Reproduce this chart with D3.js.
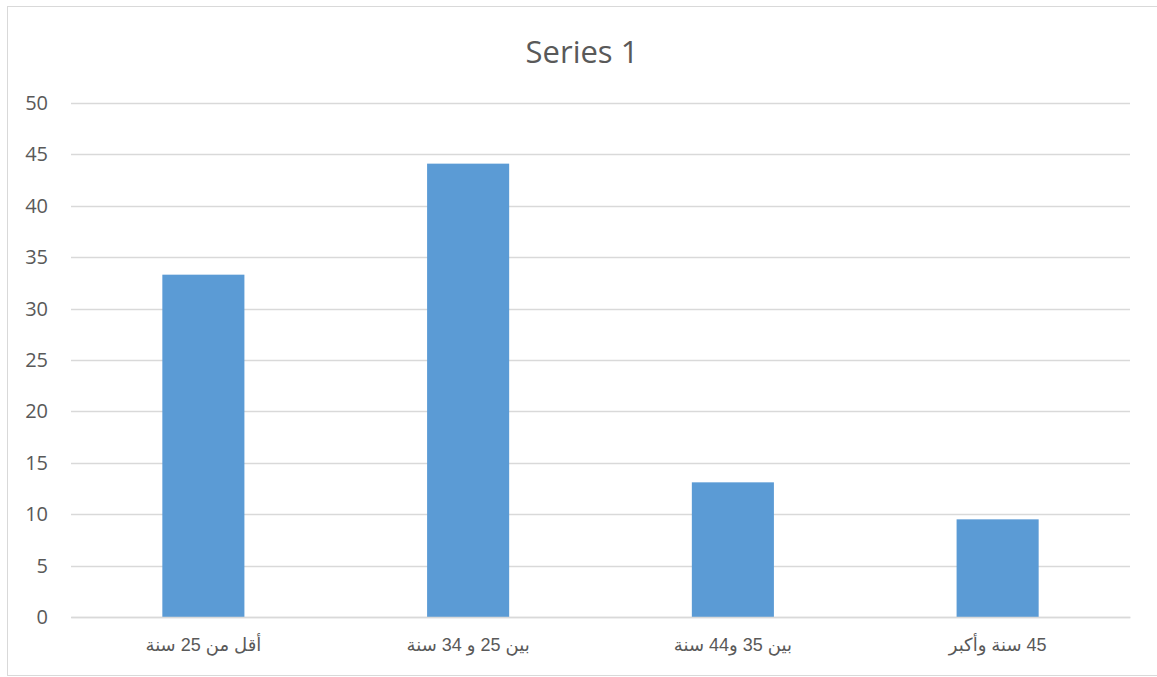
<!DOCTYPE html>
<html>
<head>
<meta charset="utf-8">
<script src="https://cdn.jsdelivr.net/npm/d3@7"></script>
<style>
  body { margin: 0; background: #fff; }
  svg { display: block; }
</style>
</head>
<body>
<svg width="1157" height="677"></svg>
<script>
// dữ liệu
const categories = ["أقل من 25 سنة", "بين 25 و 34 سنة", "بين 35 و44 سنة", "45 سنة وأكبر"];
const values = [33.3, 44.1, 13.1, 9.5];
const yTicks = [0, 5, 10, 15, 20, 25, 30, 35, 40, 45, 50];
const title = "Series 1";

const svg = d3.select("svg");
const margin = { top: 103, right: 27, left: 71 };
const plotW = 1130 - margin.left;
const plotH = 617 - margin.top;

// khung viền
svg.append("rect")
  .attr("x", 7.5).attr("y", 6.5)
  .attr("width", 1160).attr("height", 669)
  .attr("fill", "none")
  .attr("stroke", "#d9d9d9");

const chart = svg.append("g").attr("transform", `translate(${margin.left},${margin.top})`);

const x = d3.scaleBand()
  .domain(categories)
  .range([0, plotW])
  .paddingInner(0.69)
  .paddingOuter(0.345);

const y = d3.scaleLinear()
  .domain([0, 50])
  .range([plotH, 0]);

// lưới ngang
chart.append("g")
  .selectAll("line")
  .data(yTicks)
  .enter()
  .append("line")
  .attr("x1", 0)
  .attr("x2", plotW)
  .attr("y1", d => Math.round(y(d)) + 0.5)
  .attr("y2", d => Math.round(y(d)) + 0.5)
  .attr("stroke", "#d9d9d9")
  .attr("stroke-width", 1.3);

// trục y
const yAxis = chart.append("g")
  .call(d3.axisLeft(y).tickValues(yTicks).tickSize(0).tickPadding(23));
yAxis.select(".domain").remove();
yAxis.selectAll("text")
  .attr("fill", "#595959")
  .style("font-family", "'Open Sans', 'Noto Sans', sans-serif")
  .style("font-size", "20px");

// cột
chart.selectAll(".bar")
  .data(values)
  .enter()
  .append("rect")
  .attr("class", "bar")
  .attr("x", (d, i) => x(categories[i]))
  .attr("y", d => y(d))
  .attr("width", x.bandwidth())
  .attr("height", d => plotH - y(d))
  .attr("fill", "#5b9bd5");

// trục x
const xAxis = chart.append("g")
  .attr("transform", `translate(0,${plotH})`)
  .call(d3.axisBottom(x).tickSize(0).tickPadding(21));
xAxis.select(".domain")
  .attr("stroke", "#d9d9d9")
  .attr("stroke-width", 1.3);
xAxis.selectAll("text")
  .attr("fill", "#595959")
  .attr("direction", "rtl")
  .style("font-family", "'Liberation Sans', 'DejaVu Sans', sans-serif")
  .style("font-size", "18px");

// tiêu đề
svg.append("text")
  .attr("x", 582)
  .attr("y", 63)
  .attr("text-anchor", "middle")
  .attr("fill", "#595959")
  .style("font-family", "'Open Sans', 'Noto Sans', sans-serif")
  .style("font-size", "31px")
  .text(title);
</script>
</body>
</html>
